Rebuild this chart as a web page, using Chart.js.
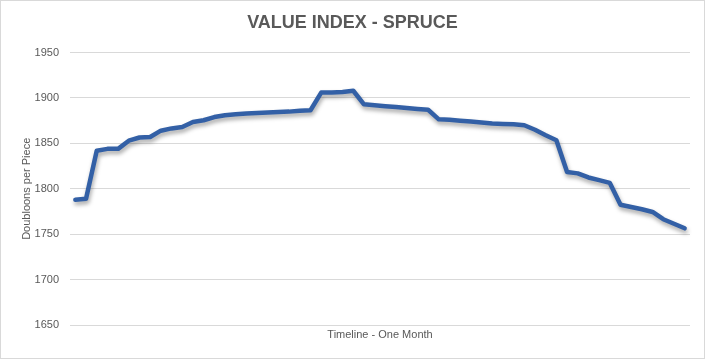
<!DOCTYPE html>
<html>
<head>
<meta charset="utf-8">
<script src="https://cdn.jsdelivr.net/npm/chart.js@4"></script>
<style>
  html, body { margin: 0; padding: 0; background: #ffffff; }
  canvas { display: block; }
</style>
</head>
<body>
<canvas id="c" width="705" height="359"></canvas>
<script>
const chartTitle = "VALUE INDEX - SPRUCE";
const yAxisTitle = "Doubloons per Piece";
const xAxisTitle = "Timeline - One Month";
const categories = ["1","2","3","4","5","6","7","8","9","10","11","12","13","14","15","16","17","18","19","20",
  "21","22","23","24","25","26","27","28","29","30","31","32","33","34","35","36","37","38","39","40",
  "41","42","43","44","45","46","47","48","49","50","51","52","53","54","55","56","57","58"];
const spruceValues = [1788, 1789, 1842, 1844, 1844, 1853, 1856.5, 1857, 1864, 1866.5,
  1868, 1873.5, 1875.5, 1879, 1881, 1882, 1883, 1883.5, 1884, 1884.5,
  1885, 1886, 1886.5, 1906, 1906, 1906.5, 1908, 1893, 1892, 1891,
  1890, 1889, 1888, 1887, 1876.5, 1876, 1875, 1874, 1873, 1872,
  1871.5, 1871, 1870, 1865, 1859, 1853.5, 1818.5, 1817, 1812.5, 1809.5,
  1806.5, 1782.5, 1780, 1777.5, 1774.5, 1766.5, 1761.5, 1756.5];
const yMin = 1650, yMax = 1950, yStep = 50;

const textColor = "#595959";
const gridColor = "#d9d9d9";
const lineColor = "#3360a6";
const fontFamily = "'Liberation Sans', Arial, sans-serif";

const shadowPlugin = {
  id: "lineShadow",
  beforeDatasetsDraw(chart) {
    const ctx = chart.ctx;
    ctx.save();
    ctx.shadowColor = "rgba(0,0,0,0.35)";
    ctx.shadowBlur = 4;
    ctx.shadowOffsetX = 1;
    ctx.shadowOffsetY = 3;
  },
  afterDatasetsDraw(chart) {
    chart.ctx.restore();
  }
};
const borderPlugin = {
  id: "outerBorder",
  afterDraw(chart) {
    const ctx = chart.ctx;
    ctx.save();
    ctx.strokeStyle = "#d9d9d9";
    ctx.lineWidth = 1;
    ctx.strokeRect(0.5, 0.5, chart.width - 1, chart.height - 1);
    ctx.restore();
  }
};

new Chart(document.getElementById("c"), {
  type: "line",
  data: {
    labels: categories,
    datasets: [{
      data: spruceValues,
      borderColor: lineColor,
      borderWidth: 4.5,
      pointRadius: 0,
      tension: 0,
      fill: false,
      borderJoinStyle: "round",
      borderCapStyle: "round",
      yAxisID: "y"
    }]
  },
  options: {
    responsive: false,
    animation: false,
    layout: { padding: 0 },
    plugins: {
      legend: { display: false },
      tooltip: { enabled: false },
      title: {
        display: true,
        text: chartTitle,
        color: textColor,
        font: { family: fontFamily, size: 18, weight: "bold", lineHeight: 1.2 },
        padding: { top: 12, bottom: 19 }
      }
    },
    scales: {
      x: {
        type: "category",
        offset: true,
        grid: { display: false, drawTicks: false },
        border: { display: false },
        ticks: { display: false },
        title: {
          display: true,
          text: xAxisTitle,
          color: textColor,
          font: { family: fontFamily, size: 11, lineHeight: 1.2 },
          padding: { top: 0, bottom: 17 }
        },
        afterFit(scale) { scale.height = 34; }
      },
      y: {
        position: "left",
        min: yMin,
        max: yMax,
        grid: { color: gridColor, lineWidth: 1, drawTicks: false },
        border: { display: false },
        ticks: {
          stepSize: yStep,
          padding: 11,
          color: textColor,
          font: { family: fontFamily, size: 11 },
          callback: (v) => String(v)
        },
        title: {
          display: true,
          text: yAxisTitle,
          color: textColor,
          font: { family: fontFamily, size: 11, lineHeight: 1.2 },
          padding: { top: 20, bottom: 0 }
        },
        afterFit(scale) { scale.width = 70; }
      },
      yRightSpace: {
        position: "right",
        display: true,
        min: yMin,
        max: yMax,
        grid: { display: false, drawTicks: false },
        border: { display: false },
        ticks: { display: false },
        afterFit(scale) { scale.width = 15; }
      }
    }
  },
  plugins: [shadowPlugin, borderPlugin]
});
</script>
</body>
</html>
